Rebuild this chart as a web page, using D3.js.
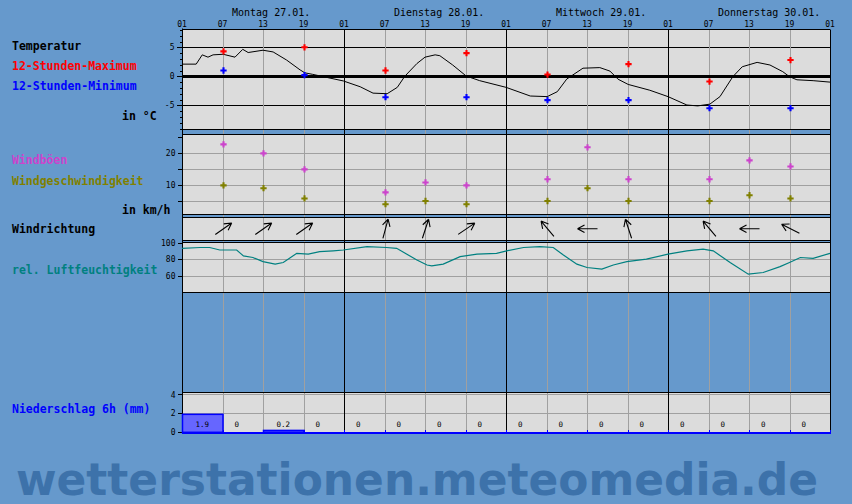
<!DOCTYPE html>
<html>
<head>
<meta charset="utf-8">
<script src="https://cdn.jsdelivr.net/npm/d3@7"></script>
<style>
  body{margin:0;background:#6699cc;}
  svg{display:block;}
  text{font-family:"DejaVu Sans Mono",monospace;}
  .lbl{font-weight:bold;font-size:11.5px;}
  .mark{font-family:"DejaVu Sans Condensed","DejaVu Sans",sans-serif;font-weight:bold;}
</style>
</head>
<body>
<main></main>
<script>
// data
const dayLabels=['Montag 27.01.','Dienstag 28.01.','Mittwoch 29.01.','Donnerstag 30.01.'];
const hourLabels=['01','07','13','19','01','07','13','19','01','07','13','19','01','07','13','19','01'];

// temperature curve (hours since Monday 01h)
const tempHours=[0,2.1,3,3.85,4.6,6.1,7.85,9,9.8,12,13.5,15.5,17.5,18.2,19.3,23.9,26.4,28.3,30.4,31.9,33,34.8,36,37.5,38.2,40.1,42.1,44.1,48,51.6,54.1,55.6,57,59.4,61.9,63.4,64.6,66.1,69.3,72,74.8,76.4,78.2,79.7,81.6,83,85.2,87.1,89,90,91.1,93.5,96];
const tempValues=[2.1,2.1,3.7,3.3,3.7,3.8,3.3,4.65,4.1,4.5,4.2,2.8,1.1,0.6,0.35,-0.8,-1.8,-2.9,-3.0,-1.9,0,2.2,3.3,3.7,3.55,1.95,0.05,-0.75,-1.9,-3.4,-3.5,-2.65,-0.47,1.4,1.5,0.9,-0.5,-1.4,-2.4,-3.5,-4.95,-5.1,-4.8,-3.5,-0.07,1.65,2.4,1.95,0.8,-0.07,-0.6,-0.75,-1.0];

const extremeHours=[6,18,30,42,54,66,78,90];
const maxTemp=[4.3,5.0,1.0,4.0,0.3,2.1,-0.9,2.8];
const minTemp=[1.0,0.2,-3.6,-3.6,-4.1,-4.1,-5.5,-5.5];

const windHours=[6,12,18,30,36,42,54,60,66,78,84,90];
const gusts=[22.8,20,15,7.8,10.9,10,11.9,21.9,11.9,11.9,17.8,15.9];
const windSpeed=[10,9.1,5.9,4.1,5.1,4.1,5.1,9.1,5.1,5.1,6.9,5.9];
const windFrom=[235,235,235,195,198,236,140,90,162,140,90,117];

const humHours=[0,2.7,4.1,5.6,8.1,9.1,10.5,12,13.8,15,17,18.7,20.4,22.4,23.9,27.4,30.3,31.8,34.8,36.3,37,38.7,41.2,43.7,46.6,48.1,50.6,53,55,56.5,58.5,60,62.2,63.9,65.9,68.8,72,74.8,77.2,78.7,81.2,83.9,86.1,88.6,90,91.6,93.5,96];
const humValues=[93,94,94,91,91,84,82,77,74,76,87,86,89,90,91,95,94,93,79,73,72,74,83,86,87,90,94,95,94,85,74,70,68,73,77,80,86,90,92,90,76,62,64,71,76,82,81,87];

const rainStart=[0,6,12,18,24,30,36,42,48,54,60,66,72,78,84,90];
const rainValues=[1.9,0,0.2,0,0,0,0,0,0,0,0,0,0,0,0,0];

// layout
const size={width:852,height:504};
const plot={left:182,right:830};
const panels={
    temp:{top:29.5,bottom:129.5},
    wind:{top:134.5,bottom:214.5},
    dir:{top:217.5,bottom:240},
    hum:{top:242.5,bottom:292.5},
    rain:{top:392.5,bottom:432.5}
};

const svg=d3.select('main').append('svg')
    .attr('width',size.width).attr('height',size.height);

const x=d3.scaleLinear().domain([0,96]).range([plot.left,plot.right]);
const yTemp=d3.scaleLinear().domain([-9.17,8.07]).range([panels.temp.bottom,panels.temp.top]);
const yWind=d3.scaleLinear().domain([0.875,25.9]).range([panels.wind.bottom,panels.wind.top]);
const yHum=d3.scaleLinear().domain([40,100]).range([panels.hum.bottom,panels.hum.top]);
const yRain=d3.scaleLinear().domain([0,4.21]).range([432.3,panels.rain.top]);

// gray panel backgrounds
Object.values(panels).forEach(p=>{
    svg.append('rect')
        .attr('x',plot.left).attr('y',p.top)
        .attr('width',plot.right-plot.left).attr('height',p.bottom-p.top)
        .attr('fill','#dcdcdc')
});

const hline=(y,color,w)=>{
    svg.append('line')
        .attr('x1',plot.left).attr('x2',plot.right)
        .attr('y1',y).attr('y2',y)
        .attr('stroke',color).attr('stroke-width',w||1)
        .attr('shape-rendering','crispEdges')
};

// horizontal grid
[5,-5].forEach(v=>hline(yTemp(v),'#000'));
[20,15,10,5].forEach(v=>hline(Math.round(yWind(v))+0.5,'#a0a0a0'));
[80,60].forEach(v=>hline(Math.round(yHum(v))+0.5,'#a0a0a0'));
[4,2].forEach(v=>hline(Math.round(yRain(v))+0.5,'#a0a0a0'));

// vertical grid, every 6 hours
const sixHours=d3.range(0,97,6);
svg.selectAll('.vgrid').data(sixHours).enter().append('line')
    .attr('x1',d=>Math.round(x(d))+0.5).attr('x2',d=>Math.round(x(d))+0.5)
    .attr('y1',panels.temp.top).attr('y2',panels.rain.bottom)
    .attr('stroke',d=>d%24===0?'#000':'#a0a0a0')
    .attr('shape-rendering','crispEdges');

// panel borders
Object.values(panels).forEach(p=>{
    hline(p.top,'#000');
    if(p!==panels.rain) hline(p.bottom,'#000');
});
hline(yTemp(0),'#000',3);

// header
svg.selectAll('.hour').data(hourLabels).enter().append('text')
    .attr('x',(d,i)=>x(i*6)).attr('y',27)
    .attr('text-anchor','middle').attr('font-size',8)
    .text(d=>d);
svg.selectAll('.day').data(dayLabels).enter().append('text')
    .attr('x',(d,i)=>x(i*24)+50).attr('y',16)
    .attr('font-size',10)
    .text(d=>d);

// left axes
const axisLeft=(scale,values,len,labels)=>{
    const g=svg.append('g')
        .attr('transform',`translate(${plot.left+0.5},0)`)
        .call(d3.axisLeft(scale).tickValues(values).tickSize(len).tickPadding(2)
            .tickFormat(labels?(d=>labels.includes(d)?d:''):''));
    g.select('.domain').remove();
    g.selectAll('line').attr('shape-rendering','crispEdges');
    g.selectAll('text').attr('font-family','DejaVu Sans Mono').attr('font-size',8).attr('fill','#000');
};
axisLeft(yTemp,d3.range(-9,9),3);
axisLeft(yTemp,[5,0,-5],6,[5,0,-5]);
axisLeft(yWind,[25,20,15,10,5],5,[20,10]);
axisLeft(yHum,[100,80,60],5,[100,80,60]);
axisLeft(yRain,[4,2,0],5,[4,2,0]);

svg.append('line')
    .attr('x1',plot.left+0.5).attr('x2',plot.left+0.5)
    .attr('y1',panels.temp.top-1).attr('y2',panels.rain.bottom)
    .attr('stroke','#000');
svg.append('line')
    .attr('x1',plot.right+0.5).attr('x2',plot.right+0.5)
    .attr('y1',panels.temp.top).attr('y2',panels.rain.bottom)
    .attr('stroke','#000');

// temperature curve
svg.append('path')
    .datum(tempHours.map((h,i)=>[h,tempValues[i]]))
    .attr('d',d3.line().x(d=>x(d[0])).y(d=>yTemp(d[1])))
    .attr('fill','none').attr('stroke','#000').attr('stroke-width',1);

const marker=d3.symbol().type(d3.symbolCross).size(22);
const markers=(hours,values,scale,color)=>{
    svg.append('g').selectAll('path')
        .data(values).enter().append('path')
        .attr('d',marker)
        .attr('transform',(d,i)=>`translate(${Math.round(x(hours[i]))+0.5},${scale(d)})`)
        .attr('fill',color)
};
markers(extremeHours,maxTemp,yTemp,'#ff0000');
markers(extremeHours,minTemp,yTemp,'#0000ff');
markers(windHours,gusts,yWind,'#cc44cc');
markers(windHours,windSpeed,yWind,'#808000');

// wind direction arrows
const dirY=(panels.dir.top+panels.dir.bottom)/2;
const arrow=(from)=>{
    const len=20, head=8;
    const a=(from+180)*Math.PI/180;
    const dx=Math.sin(a), dy=-Math.cos(a);
    const x0=-dx*len/2, y0=-dy*len/2, x1=dx*len/2, y1=dy*len/2;
    const barb=(s)=>{
        const b=a+Math.PI+s*0.5;
        return `M${x1},${y1}L${x1+Math.sin(b)*head},${y1-Math.cos(b)*head}`;
    };
    return `M${x0},${y0}L${x1},${y1}`+barb(1)+barb(-1);
};
svg.append('g').selectAll('path')
    .data(windFrom).enter().append('path')
    .attr('d',d=>arrow(d))
    .attr('transform',(d,i)=>`translate(${Math.round(x(windHours[i]))+0.5},${dirY})`)
    .attr('fill','none').attr('stroke','#000').attr('stroke-width',1.1);

// humidity
svg.append('path')
    .datum(humHours.map((h,i)=>[h,humValues[i]]))
    .attr('d',d3.line().x(d=>x(d[0])).y(d=>yHum(d[1])))
    .attr('fill','none').attr('stroke','#008080').attr('stroke-width',1.2);

// precipitation
svg.append('g').selectAll('rect')
    .data(rainValues).enter().filter(d=>d>0).append('rect')
    .attr('x',(d,i)=>x(rainStart[rainValues.indexOf(d)])+0.5)
    .attr('y',d=>yRain(d))
    .attr('width',x(6)-x(0))
    .attr('height',d=>yRain(0)-yRain(d))
    .attr('fill','#6666ff').attr('stroke','#0000ff').attr('stroke-width',1.5);
svg.append('g').selectAll('text')
    .data(rainValues).enter().append('text')
    .attr('x',(d,i)=>x(rainStart[i]+3)-(d===0?6:0))
    .attr('y',427)
    .attr('text-anchor','middle').attr('font-size',7.5)
    .text(d=>d===0?'0':d3.format('.1f')(d));
hline(432.5,'#0000ff',2);
svg.selectAll('.rtick').data(sixHours).enter().append('line')
    .attr('x1',d=>Math.round(x(d))+0.5).attr('x2',d=>Math.round(x(d))+0.5)
    .attr('y1',430).attr('y2',434)
    .attr('stroke','#0000ff');

// legend texts
const legend=[
    ['Temperatur','#000',50],
    ['12-Stunden-Maximum','#ff0000',70],
    ['12-Stunden-Minimum','#0000ff',90],
    ['Windböen','#cc44cc',164],
    ['Windgeschwindigkeit','#808000',185],
    ['Windrichtung','#000',233],
    ['rel. Luftfeuchtigkeit','#008080',274],
    ['Niederschlag 6h (mm)','#0000ff',413]
];
legend.forEach(l=>{
    svg.append('text').attr('class','lbl')
        .attr('x',12).attr('y',l[2]).attr('fill',l[1]).text(l[0])
});
svg.append('text').attr('class','lbl').attr('x',122).attr('y',120).text('in °C');
svg.append('text').attr('class','lbl').attr('x',122).attr('y',214).text('in km/h');

// watermark
svg.append('text').attr('class','mark')
    .attr('x',16).attr('y',495)
    .attr('font-size',44)
    .attr('textLength',802).attr('lengthAdjust','spacingAndGlyphs')
    .attr('fill','#3d72aa')
    .text('wetterstationen.meteomedia.de');
</script>
</body>
</html>
